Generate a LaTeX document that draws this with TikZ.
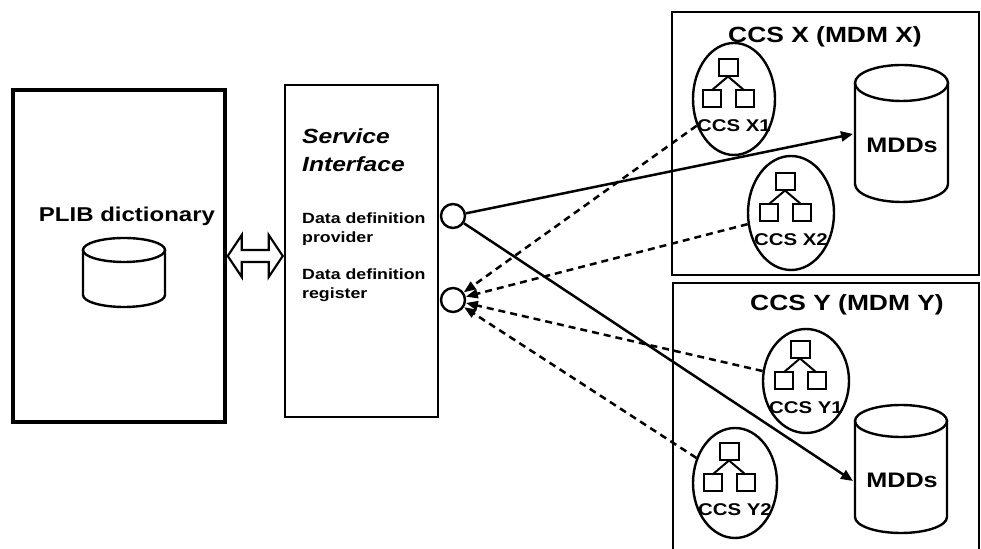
\documentclass[tikz,border=0pt]{standalone}
\usepackage{fontspec}
\setmainfont{Liberation Sans}
\usepackage{graphicx}
\usetikzlibrary{shapes.geometric,arrows.meta,calc}
\newcommand\hs[1]{\scalebox{1.2}[1]{#1}}
\newcommand\mycyl[5]{%
  \draw[cylline] (#1-#4,#2-#5) -- (#1-#4,#3+#5) arc[start angle=180,end angle=360,x radius=#4pt,y radius=#5pt] -- (#1+#4,#2-#5);
  \draw[cylline] (#1,#2-#5) ellipse[x radius=#4pt,y radius=#5pt];}
\newcommand\ccsicon[5]{%
  \node[ccsell,minimum width=#4pt,minimum height=#5pt] (#1) at (#2) {};
  \begin{scope}[shift={(#2)}]
    \draw[iconline] (-15.5,22.5) rectangle (3.5,39.5);
    \draw[iconline] (-31.5,-8.5) rectangle (-13.5,8.5);
    \draw[iconline] (1.5,-8.5) rectangle (19.5,8.5);
    \draw[iconline] (-6,22.5) -- (-22.5,8.5);
    \draw[iconline] (-6,22.5) -- (10.5,8.5);
  \end{scope}
  \node[ccslab] (#1-lab) at ($(#2)+(0,-33)$) {\hs{#3}};}
\begin{document}
\begin{tikzpicture}[x=1pt,y=1pt,
  box/.style={draw,line width=2.5pt,inner sep=0pt},
  cylline/.style={line width=2.4pt},
  iconline/.style={line width=2pt},
  ccsell/.style={ellipse,draw,line width=2.4pt,inner sep=0pt},
  port/.style={circle,draw,line width=2.4pt,minimum size=24pt,inner sep=0pt},
  lab/.style={inner sep=0pt},
  ccslab/.style={lab,anchor=base,font=\bfseries\fontsize{17}{20}\selectfont},
  ddlab/.style={lab,anchor=base west,font=\bfseries\fontsize{14.8}{18}\selectfont},
  silab/.style={lab,anchor=base west,font=\bfseries\itshape\fontsize{20.5}{24}\selectfont},
  biglab/.style={lab,anchor=base,font=\bfseries\fontsize{22}{26}\selectfont},
  mddlab/.style={lab,anchor=base,font=\bfseries\fontsize{21}{24}\selectfont},
  solidconn/.style={line width=2.5pt,-{Triangle[length=12pt,width=10pt]}},
  dashconn/.style={line width=2.5pt,dash pattern=on 7pt off 5pt,-{Triangle[length=12pt,width=9pt]}},
  blockarrow/.style={line width=2.2pt,line join=miter}]
\useasboundingbox (0,0) rectangle (981,548);
\fill[white] (0,0) rectangle (981,548);

% PLIB dictionary
\node[box,line width=3.5pt,minimum width=212pt,minimum height=332pt] (plib) at (119,292) {};
\node[lab,anchor=base,font=\bfseries\fontsize{20}{24}\selectfont] (plibt) at (127,326) {\hs{PLIB dictionary}};
\mycyl{124}{310}{241}{41}{12}

% Service interface
\node[box,minimum width=153pt,minimum height=332pt] (svc) at (361.5,297) {};
\node[silab] (svc1) at (302,404) {\hs{Service}};
\node[silab] (svc2) at (302,376) {\hs{Interface}};
\node[ddlab] (dd1) at (302,324) {\hs{Data definition}};
\node[ddlab] (dd2) at (302,305) {\hs{provider}};
\node[ddlab] (dr1) at (302,268) {\hs{Data definition}};
\node[ddlab] (dr2) at (302,249) {\hs{register}};
\node[port] (pc) at (453,332) {};
\node[port] (rc) at (453,248) {};

% double block arrow
\coordinate (dl) at ($(plib.east)+(1,0)$);
\coordinate (dr) at ($(svc.west |- plib.east)+(-1,0)$);
\draw[blockarrow] (dl) -- ($(dl)+(14,21)$) -- ($(dl)+(14,6)$) -- ($(dr)+(-14,6)$) -- ($(dr)+(-14,21)$) -- (dr)
  -- ($(dr)+(-14,-21)$) -- ($(dr)+(-14,-6)$) -- ($(dl)+(14,-6)$) -- ($(dl)+(14,-21)$) -- cycle;

% CCS X
\node[box,minimum width=307pt,minimum height=263pt] (ccsx) at (825.5,404.5) {};
\node[biglab] (ccsxt) at (825,505) {\hs{CCS X (MDM X)}};
\mycyl{901.5}{483}{346}{46.5}{18}
\node[mddlab] (mddxt) at (902,395) {\hs{MDDs}};
\coordinate (mddxw) at (853,414);
\ccsicon{x1}{734,449}{CCS X1}{82}{112}
\ccsicon{x2}{791,335}{CCS X2}{86}{114}

% CCS Y
\node[box,minimum width=306pt,minimum height=275pt] (ccsy) at (826,127.5) {};
\node[biglab] (ccsyt) at (847,237) {\hs{CCS Y (MDM Y)}};
\mycyl{901}{143}{15}{46}{16}
\node[mddlab] (mddyt) at (902,60) {\hs{MDDs}};
\coordinate (mddyw) at (853,67);
\ccsicon{y1}{806,167}{CCS Y1}{86}{104}
\ccsicon{y2}{735,65}{CCS Y2}{84}{110}

% connectors
\draw[solidconn] (pc) -- (mddxw);
\draw[solidconn] (pc) -- (mddyw);
\draw[dashconn] (x1) -- (rc);
\draw[dashconn] (x2) -- (rc);
\draw[dashconn] (y1) -- (rc);
\draw[dashconn] (y2) -- (rc);
\end{tikzpicture}
\end{document}
